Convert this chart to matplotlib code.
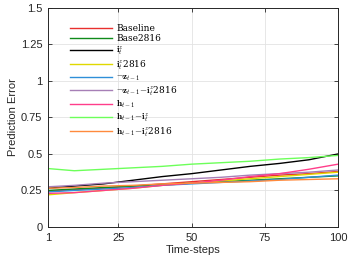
import matplotlib
matplotlib.use('Agg')
import matplotlib.pyplot as plt

plt.rcParams['font.family'] = 'Liberation Sans'
plt.rcParams['mathtext.fontset'] = 'cm'

steps = [1, 10, 20, 30, 40, 50, 60, 70, 80, 90, 100]

labels = ['Baseline', 'Base2816', r'$\mathbf{i}_t^z$', r'$\mathbf{i}_t^z$2816',
          r'$\neg\mathbf{z}_{t-1}$', r'$\neg\mathbf{z}_{t-1}$$-\mathbf{i}_t^z$2816',
          r'$\mathbf{h}_{t-1}$', r'$\mathbf{h}_{t-1}$$-\mathbf{i}_t^z$',
          r'$\mathbf{h}_{t-1}$$-\mathbf{i}_t^z$2816']

baseline      = [0.245, 0.255, 0.265, 0.280, 0.295, 0.310, 0.325, 0.340, 0.355, 0.365, 0.380]
base2816      = [0.250, 0.260, 0.270, 0.280, 0.290, 0.300, 0.310, 0.320, 0.330, 0.340, 0.350]
iz            = [0.265, 0.280, 0.295, 0.320, 0.345, 0.365, 0.390, 0.415, 0.435, 0.460, 0.500]
iz2816        = [0.220, 0.235, 0.250, 0.265, 0.285, 0.300, 0.315, 0.330, 0.345, 0.360, 0.375]
notz          = [0.240, 0.250, 0.260, 0.270, 0.285, 0.295, 0.305, 0.315, 0.325, 0.340, 0.355]
notz_iz2816   = [0.275, 0.285, 0.300, 0.310, 0.320, 0.330, 0.340, 0.355, 0.365, 0.375, 0.390]
h             = [0.230, 0.235, 0.250, 0.265, 0.285, 0.300, 0.320, 0.345, 0.365, 0.395, 0.430]
h_iz          = [0.400, 0.385, 0.395, 0.405, 0.415, 0.430, 0.440, 0.450, 0.465, 0.475, 0.490]
h_iz2816      = [0.265, 0.270, 0.280, 0.285, 0.295, 0.300, 0.305, 0.310, 0.320, 0.325, 0.330]

series = [baseline, base2816, iz, iz2816, notz, notz_iz2816, h, h_iz, h_iz2816]
colors = ['#e8302e', '#0f8a1a', '#000000', '#e0d800', '#2f8fd8',
          '#a67fb6', '#ff3d8a', '#6dff5a', '#ff8a3d']

fig = plt.figure(figsize=(3.5, 2.63), dpi=100)
ax = fig.add_axes([0.137, 0.137, 0.829, 0.833])

for vals, lab, c in zip(series, labels, colors):
    ax.plot(steps, vals, color=c, lw=1.0, label=lab)

ax.set_xlim(1, 100)
ax.set_ylim(0, 1.5)
ax.set_xticks([1, 25, 50, 75, 100])
ax.set_yticks([0, 0.25, 0.5, 0.75, 1, 1.25, 1.5])
ax.set_yticklabels(['0', '0.25', '0.5', '0.75', '1', '1.25', '1.5'])
ax.tick_params(direction='in', top=True, right=True, labelsize=8, length=3,
               width=0.6, colors='#262626', pad=4)
ax.grid(True, color='#e3e3e3', lw=0.6)
for s in ax.spines.values():
    s.set_linewidth(0.7)
    s.set_color('#262626')

ax.set_xlabel('Time-steps', fontsize=8, color='#262626', labelpad=2)
ax.set_ylabel('Prediction Error', fontsize=8, color='#262626', labelpad=2)

leg = ax.legend(loc='upper left', bbox_to_anchor=(0.055, 0.955), frameon=False,
                prop={'family': 'DejaVu Serif', 'size': 6.5}, handlelength=4.6,
                labelspacing=0.12, handletextpad=0.5, borderaxespad=0.3)

fig.savefig('out.png', dpi=100)
